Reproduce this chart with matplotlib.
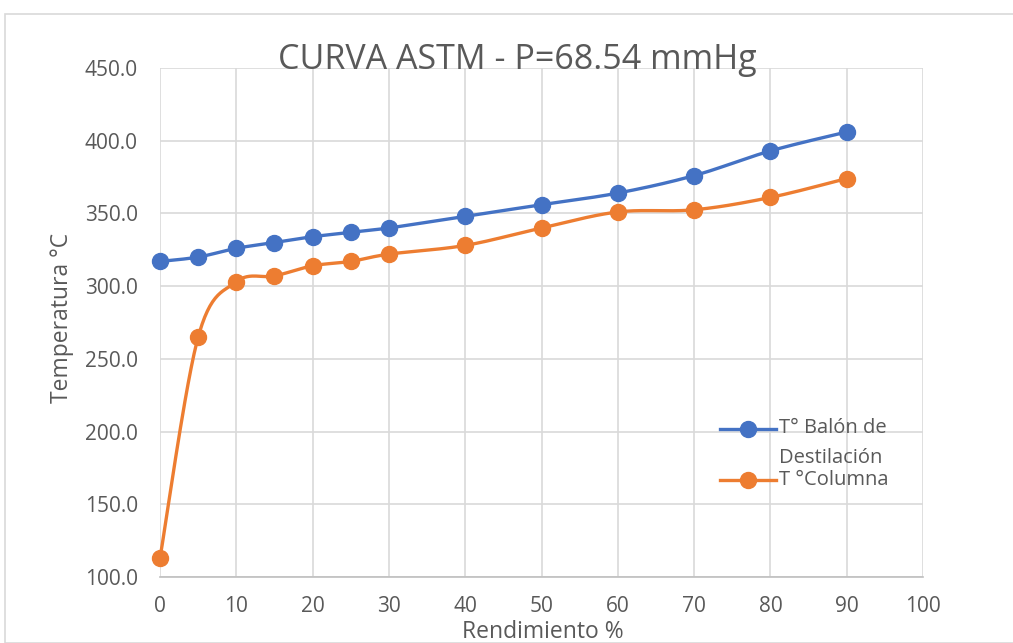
import numpy as np
import matplotlib
matplotlib.use("Agg")
import matplotlib.pyplot as plt
from matplotlib.patches import Rectangle
from matplotlib.lines import Line2D

plt.rcParams['font.family'] = ['Open Sans', 'DejaVu Sans']

# Data
rendimiento = [0, 5, 10, 15, 20, 25, 30, 40, 50, 60, 70, 80, 90]
t_balon = [317, 320, 326, 330, 334, 337, 340, 348, 356, 364, 376, 393, 406]
t_columna = [113, 265, 303, 307, 314, 317, 322, 328, 340, 351, 352.5, 361, 374]
x_ticks = [0, 10, 20, 30, 40, 50, 60, 70, 80, 90, 100]
y_ticks = [100, 150, 200, 250, 300, 350, 400, 450]

title = "CURVA ASTM - P=68.54 mmHg"
label_balon = "T° Balón de\nDestilación"
label_columna = "T °Columna"

BLUE = "#4472C4"
ORANGE = "#ED7D31"
GRID = "#D9D9D9"
TEXT = "#595959"


def smooth(x, y, n=30):
    """Cubic Bezier smoothing through every point (Catmull-Rom style)."""
    p = np.column_stack([x, y]).astype(float)
    out = []
    for i in range(len(p) - 1):
        p0 = p[i - 1] if i > 0 else p[i]
        p1 = p[i]
        p2 = p[i + 1]
        p3 = p[i + 2] if i + 2 < len(p) else p[i + 1]
        c1 = p1 + (p2 - p0) / 6.0
        c2 = p2 - (p3 - p1) / 6.0
        t = np.linspace(0, 1, n)[:, None]
        seg = ((1 - t) ** 3) * p1 + 3 * ((1 - t) ** 2) * t * c1 + 3 * (1 - t) * t ** 2 * c2 + t ** 3 * p2
        out.append(seg if i == 0 else seg[1:])
    s = np.vstack(out)
    return s[:, 0], s[:, 1]


W, H = 1013, 643
fig = plt.figure(figsize=(W / 100, H / 100), dpi=100)
fig.patches.append(Rectangle((5 / W, 0), 1.2, 1 - 14 / H, transform=fig.transFigure,
                             fill=False, edgecolor=GRID, linewidth=1.2))

ax = fig.add_axes([160 / W, 1 - 577 / H, (923 - 160) / W, (577 - 68) / H])

for xs, ys, col in [(rendimiento, t_balon, BLUE), (rendimiento, t_columna, ORANGE)]:
    sx, sy = smooth(xs, ys)
    ax.plot(sx, sy, color=col, linewidth=2.4, solid_capstyle="round", zorder=3, clip_on=False)
    ax.plot(xs, ys, linestyle="none", marker="o", markersize=11.5, color=col, zorder=4, clip_on=False)

ax.set_xlim(0, 100)
ax.set_ylim(100, 450)
ax.set_xticks(x_ticks)
ax.set_yticks(y_ticks)
ax.set_yticklabels([f"{v:.1f}" for v in y_ticks])
ax.grid(True, color=GRID, linewidth=1.2)
ax.set_axisbelow(True)
for side in ["top", "right", "left"]:
    ax.spines[side].set_visible(False)
ax.spines["bottom"].set_color("#BFBFBF")
ax.spines["bottom"].set_linewidth(1.2)
ax.tick_params(length=0, labelsize=15, labelcolor=TEXT)
ax.tick_params(axis="x", pad=14)
ax.tick_params(axis="y", pad=16)

fig.text(543 / W, 1 - 632 / H, "Rendimiento %", ha="center", va="center", fontsize=16.5, color=TEXT)
fig.text(62 / W, 1 - 318 / H, "Temperatura °C", ha="center", va="center", rotation=90,
         fontsize=16.5, color=TEXT)
fig.text(517 / W, 1 - 60 / H, title, ha="center", va="center", fontsize=24.5, color=TEXT)

# Legend entries
for y_px, col in [(429, BLUE), (480, ORANGE)]:
    yf = 1 - y_px / H
    fig.add_artist(Line2D([720 / W, 776 / W], [yf, yf], transform=fig.transFigure,
                          color=col, linewidth=2.4))
    fig.add_artist(Line2D([748 / W], [yf], transform=fig.transFigure, marker="o",
                          markersize=11.5, color=col, linestyle="none"))
fig.text(779 / W, 1 - 428 / H, "T° Balón de", ha="left", va="center", fontsize=14.5, color=TEXT)
fig.text(779 / W, 1 - 458 / H, "Destilación", ha="left", va="center", fontsize=14.5, color=TEXT)
fig.text(779 / W, 1 - 480 / H, label_columna, ha="left", va="center", fontsize=14.5, color=TEXT)

fig.savefig("out.png", dpi=100)
